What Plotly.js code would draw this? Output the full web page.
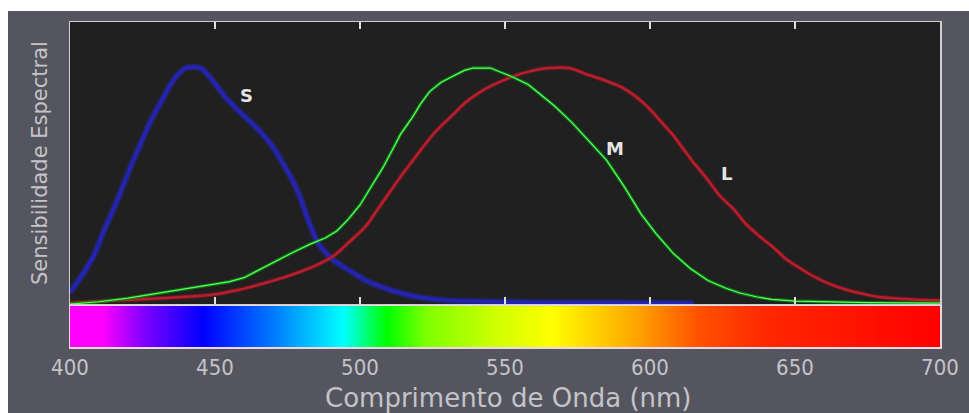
<!DOCTYPE html>
<html>
<head>
<meta charset="utf-8">
<script src="https://cdn.plot.ly/plotly-3.0.1.min.js"></script>
<style>html,body{margin:0;padding:0;background:#fff;}#chart{width:969px;height:413px;}</style>
</head>
<body>
<div id="chart"></div>
<script>
// S cone (blue)
const sWl  = [400,404,408,412,416,420,424,428,432,436,440,445,449,454,458,462,466,470,473,476,479,482,486,490,494,498,502,508,514,520,526,535,550,575,600,615];
const sVal = [0.05,0.12,0.20,0.32,0.43,0.555,0.67,0.78,0.87,0.955,1.0,1.0,0.95,0.87,0.82,0.775,0.725,0.665,0.605,0.54,0.465,0.36,0.25,0.195,0.16,0.13,0.10,0.07,0.047,0.03,0.02,0.013,0.009,0.006,0.005,0.004];
// M cone (green)
const mWl  = [400,410,420,431,440,448,455,460,466,471,477,483,488,492,496,500,504,508,511,514,518,521,524,528,532,536,539,545,549,553,558,562,567,573,579,585,591,597,602,608,614,620,626,631,637,642,650,660,675,700];
const mVal = [0.0,0.01,0.025,0.047,0.063,0.08,0.095,0.112,0.15,0.185,0.22,0.255,0.28,0.31,0.36,0.42,0.50,0.58,0.65,0.72,0.79,0.85,0.90,0.94,0.965,0.99,1.0,1.0,0.98,0.96,0.93,0.89,0.84,0.77,0.69,0.61,0.50,0.38,0.30,0.215,0.15,0.10,0.068,0.047,0.03,0.02,0.013,0.009,0.006,0.004];
// L cone (red)
const lWl  = [400,415,431,449,458,466,473,479,485,491,496,502,506,510,514,518,522,526,531,537,543,548,554,560,565,572,579,585,590,595,600,604,608,611,615,620,624,629,633,638,643,647,652,656,662,668,674,679,690,700];
const lVal = [0.005,0.015,0.025,0.04,0.06,0.085,0.11,0.135,0.165,0.205,0.26,0.33,0.40,0.47,0.54,0.605,0.67,0.73,0.79,0.86,0.91,0.94,0.97,0.99,1.0,1.0,0.97,0.945,0.92,0.88,0.825,0.77,0.715,0.665,0.60,0.525,0.46,0.40,0.34,0.285,0.235,0.19,0.15,0.12,0.085,0.06,0.042,0.03,0.02,0.015];
// spectrum bar colour stops
const spectrumWl     = [400,411,425,446,471,494,509,523,546,566,594,617,640,700];
const spectrumColors = ['#ff00ff','#ff00ff','#8000ff','#0000ff','#0080ff','#00ffff','#00ff00','#80ff00','#ccff00','#ffff00','#ffa800','#ff5000','#ff2800','#ff0000'];
// tick labels
const tickVals = [400,450,500,550,600,650,700];
const tickText = ['400','450','500','550','600','650','700'];
const curveLabels = [{t:'S', x:461, y:0.885},{t:'M', x:588, y:0.66},{t:'L', x:626.5, y:0.555}];

const lo = spectrumWl[0], hi = spectrumWl[spectrumWl.length-1];
const colorscale = spectrumWl.map((w,i)=>[(w-lo)/(hi-lo), spectrumColors[i]]);

const traces = [
  {x:sWl, y:sVal, type:'scatter', mode:'lines', line:{color:'rgba(40,40,190,0.4)', width:7, shape:'spline', smoothing:0.8}, hoverinfo:'skip'},
  {x:sWl, y:sVal, type:'scatter', mode:'lines', line:{color:'#2424b4', width:3.5, shape:'spline', smoothing:0.8}},
  {x:lWl, y:lVal, type:'scatter', mode:'lines', line:{color:'rgba(160,20,35,0.45)', width:4.5, shape:'spline', smoothing:0.8}, hoverinfo:'skip'},
  {x:lWl, y:lVal, type:'scatter', mode:'lines', line:{color:'#b81e2c', width:2.5, shape:'spline', smoothing:0.8}},
  {x:mWl, y:mVal, type:'scatter', mode:'lines', line:{color:'rgba(10,130,20,0.8)', width:3.5}},
  {x:mWl, y:mVal, type:'scatter', mode:'lines', line:{color:'#5cff5c', width:1.2}},
  {x:spectrumWl, y:[0], z:[spectrumWl], type:'heatmap', xaxis:'x2', yaxis:'y2', colorscale:colorscale, zmin:lo, zmax:hi, zsmooth:'best', showscale:false}
];

const gray = '#55555f';
const frame = '#cfcfcf';
const layout = {
  width:969, height:413,
  margin:{l:70, r:29, t:22, b:66},
  paper_bgcolor: gray,
  plot_bgcolor:'#202020',
  showlegend:false,
  xaxis:{domain:[0,1], range:[400,700], anchor:'y', tickvals:tickVals.slice(1,-1), showticklabels:false, ticks:'inside', ticklen:7, tickwidth:1.5, tickcolor:'#e0e0e0', mirror:'ticks', showline:true, linecolor:frame, linewidth:1.5, showgrid:false, zeroline:false},
  yaxis:{domain:[0.132,1], range:[0,1.195], anchor:'x', showticklabels:false, ticks:'', showline:true, mirror:true, linecolor:frame, linewidth:1.5, showgrid:false, zeroline:false},
  xaxis2:{domain:[0,1], range:[400,700], anchor:'y2', matches:'x', tickvals:tickVals, ticktext:tickText, ticks:'', showline:true, mirror:true, linecolor:'#ecd8e0', linewidth:1.5, showgrid:false, zeroline:false, tickfont:{family:'DejaVu Sans Condensed', size:22, color:'#c4c4c8'}},
  yaxis2:{domain:[0,0.126], range:[-0.5,0.5], anchor:'x2', showticklabels:false, ticks:'', showline:true, mirror:true, linecolor:'#ecd8e0', linewidth:1.5, showgrid:false, zeroline:false},
  shapes:[
    {type:'rect', xref:'paper', yref:'paper', x0:-0.1, x1:1.1, y0:(347-11)/325, y1:1.3, fillcolor:'#ffffff', line:{width:0}, layer:'above'},
    {type:'rect', xref:'paper', yref:'paper', x0:-0.1, x1:(8-70)/870, y0:-0.3, y1:1.3, fillcolor:'#ffffff', line:{width:0}, layer:'above'}
  ],
  annotations: curveLabels.map(c=>({x:c.x, y:c.y, xref:'x', yref:'y', text:c.t, showarrow:false, font:{family:'DejaVu Sans', size:18, color:'#e4e4e4', weight:'bold'}})).concat([
    {text:'Sensibilidade Espectral', xref:'paper', yref:'paper', x:(40-70)/870, y:(347-163)/325, textangle:-90, showarrow:false, xanchor:'center', yanchor:'middle', font:{family:'DejaVu Sans', size:21, color:'#c4c4c8'}},
    {text:'Comprimento de Onda (nm)', xref:'paper', yref:'paper', x:(508-70)/870, y:(347-398)/325, showarrow:false, xanchor:'center', yanchor:'middle', font:{family:'DejaVu Sans', size:26, color:'#c4c4c8'}}
  ])
};

Plotly.newPlot('chart', traces, layout, {displayModeBar:false, staticPlot:true});
</script>
</body>
</html>
